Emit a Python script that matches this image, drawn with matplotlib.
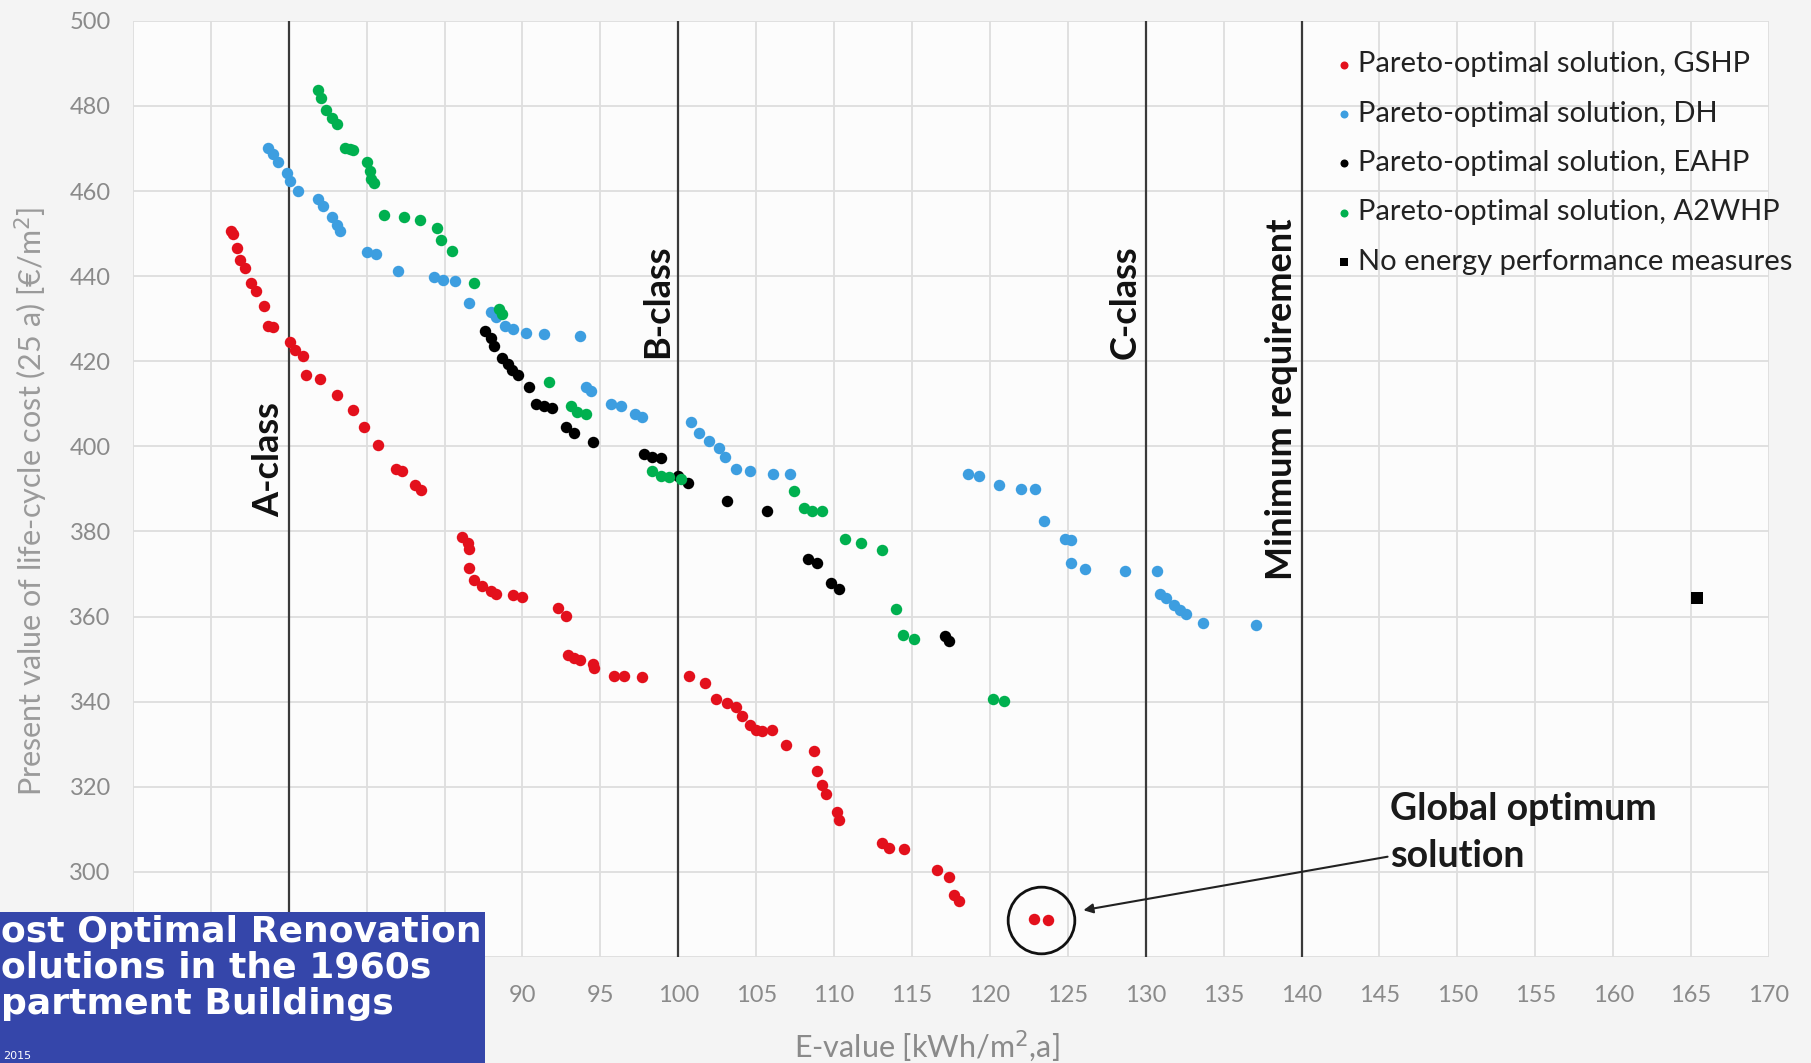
import numpy as np
import matplotlib
matplotlib.use('Agg')
import matplotlib.pyplot as plt
from matplotlib.patches import Rectangle

plt.rcParams['font.family'] = ['Lato', 'DejaVu Sans']

# GSHP (red)
gshp_x = [71.3, 71.4, 71.7, 71.9, 72.2, 72.6, 72.9, 73.4, 73.7, 74.0, 75.1, 75.4, 75.9, 76.1, 77.0,
          78.1, 79.1, 79.8, 80.7, 81.9, 82.3, 83.1, 83.5, 86.1, 86.5, 86.6, 86.6, 86.9, 87.4, 88.0,
          88.3, 89.4, 90.0, 92.3, 92.8, 92.9, 93.3, 93.7, 94.5, 94.6, 95.9, 96.5, 97.7, 100.7, 101.7,
          102.4, 103.1, 103.7, 104.1, 104.6, 105.0, 105.4, 106.0, 106.9, 108.7, 108.9, 109.2, 109.5,
          110.2, 110.3, 113.1, 113.5, 114.5, 116.6, 117.4, 117.7, 118.0, 122.8, 123.7]
gshp_y = [450.6, 449.8, 446.5, 443.8, 441.9, 438.4, 436.5, 433.0, 428.4, 428.1, 424.6, 422.7, 421.3,
          416.7, 415.9, 412.1, 408.5, 404.5, 400.4, 394.7, 394.2, 390.9, 389.8, 378.7, 377.3, 376.0,
          371.4, 368.7, 367.3, 365.9, 365.4, 365.1, 364.6, 362.1, 360.2, 351.0, 350.2, 349.7, 348.8,
          348.0, 346.1, 346.1, 345.9, 346.1, 344.5, 340.7, 339.6, 338.8, 336.6, 334.5, 333.4, 333.1,
          333.4, 329.8, 328.5, 323.6, 320.4, 318.2, 314.1, 312.2, 306.8, 305.7, 305.4, 300.5, 298.9,
          294.6, 293.2, 288.9, 288.6]

# DH (blue)
dh_x = [73.7, 74.0, 74.3, 74.9, 75.1, 75.6, 76.9, 77.2, 77.8, 78.1, 78.3, 80.0, 80.6, 82.0, 84.3,
        84.9, 85.7, 86.6, 88.0, 88.3, 88.9, 89.4, 90.2, 91.4, 93.7, 94.1, 94.4, 95.7, 96.3, 97.2,
        97.7, 100.8, 101.3, 102.0, 102.6, 103.0, 103.7, 104.6, 106.1, 107.2, 118.6, 119.3, 120.6,
        122.0, 122.9, 123.5, 124.8, 125.2, 125.2, 126.1, 128.7, 130.7, 130.9, 131.3, 131.8, 132.2,
        132.6, 133.7, 137.1]
dh_y = [470.1, 468.8, 466.9, 464.2, 462.3, 460.1, 458.2, 456.6, 453.9, 452.0, 450.6, 445.7, 445.2,
        441.1, 439.8, 439.2, 438.9, 433.8, 431.6, 430.3, 428.4, 427.5, 426.7, 426.5, 425.9, 414.0,
        412.9, 409.9, 409.6, 407.7, 406.9, 405.8, 403.1, 401.2, 399.6, 397.4, 394.7, 394.2, 393.6,
        393.6, 393.6, 393.1, 390.9, 390.1, 390.1, 382.5, 378.2, 377.9, 372.7, 371.1, 370.6, 370.6,
        365.4, 364.3, 362.7, 361.6, 360.5, 358.6, 358.1]

# EAHP (black)
eahp_x = [87.6, 88.0, 88.2, 88.7, 89.1, 89.3, 89.7, 90.4, 90.9, 91.4, 91.9, 92.8, 93.3, 94.5, 97.8,
          98.3, 98.9, 100.0, 100.6, 103.1, 105.7, 108.3, 108.9, 109.8, 110.3, 117.1, 117.4]
eahp_y = [427.0, 425.4, 423.5, 420.8, 419.4, 418.0, 416.7, 414.0, 409.9, 409.4, 409.1, 404.5, 403.1,
          401.0, 398.2, 397.4, 397.2, 393.1, 391.5, 387.1, 384.9, 373.5, 372.5, 367.8, 366.5, 355.4,
          354.3]

# A2WHP (green)
a2w_x = [76.9, 77.1, 77.4, 77.8, 78.1, 78.6, 78.9, 79.1, 80.0, 80.2, 80.3, 80.5, 81.1, 82.4, 83.4,
         84.5, 84.8, 85.5, 86.9, 88.5, 88.7, 91.7, 93.1, 93.5, 94.1, 98.3, 98.9, 99.4, 100.2, 107.4,
         108.1, 108.6, 109.2, 110.7, 111.7, 113.1, 114.0, 114.4, 115.1, 120.2, 120.9]
a2w_y = [483.7, 481.8, 479.1, 477.2, 475.8, 470.1, 469.9, 469.6, 466.9, 464.7, 462.8, 462.0, 454.4,
         453.9, 453.3, 451.4, 448.4, 446.0, 438.4, 432.2, 431.1, 415.1, 409.4, 408.0, 407.5, 394.2,
         393.1, 392.8, 392.3, 389.6, 385.5, 384.9, 384.7, 378.2, 377.3, 375.7, 361.9, 355.6, 354.8,
         340.7, 340.2]

# no measures (square)
base_x = [165.4]
base_y = [364.3]

class_x = [75, 100, 130, 140]
class_labels = ['A-class', 'B-class', 'C-class', 'Minimum requirement']
class_label_y = [397, 434, 434, 411]

opt_x = 123.25
opt_y = 288.7

xticks = np.arange(65, 171, 5)
# ticks 65..85 sit under the title box, their labels are not visible
xtick_labels = ['' if v < 90 else str(v) for v in xticks]

fig = plt.figure(figsize=(18.11, 10.63), dpi=100, facecolor='#f4f4f4')
ax = fig.add_axes([0.0734, 0.0997, 0.9768 - 0.0734, 0.9804 - 0.0997])
ax.set_facecolor('#fcfcfc')

ax.set_xlim(65, 170)
ax.set_ylim(280, 500)
ax.set_xticks(xticks)
ax.set_xticklabels(xtick_labels)
ax.set_yticks(np.arange(300, 501, 20))
ax.axhline(280, color='#dedede', lw=1.3, zorder=0)
ax.grid(True, color='#dedede', lw=1.3)
ax.set_axisbelow(True)
for s in ax.spines.values():
    s.set_visible(False)
ax.tick_params(length=0, labelsize=17, labelcolor='#8a8a8a')
ax.tick_params(axis='y', pad=16)
ax.tick_params(axis='x', pad=20)

for cx in class_x:
    ax.axvline(cx, color='#3a3a3a', lw=1.6, zorder=2)
for cx, lab, ly in zip(class_x, class_labels, class_label_y):
    ax.text(cx - 1.3, ly, lab, rotation=90, ha='center', va='center',
            fontsize=26, fontweight='bold', color='#111111')

ms = 68
ax.scatter(gshp_x, gshp_y, s=ms, color='#e3101c', label='Pareto-optimal solution, GSHP', zorder=3, lw=0)
ax.scatter(dh_x, dh_y, s=ms, color='#3d9ee0', label='Pareto-optimal solution, DH', zorder=3, lw=0)
ax.scatter(eahp_x, eahp_y, s=ms, color='#000000', label='Pareto-optimal solution, EAHP', zorder=3, lw=0)
ax.scatter(a2w_x, a2w_y, s=ms, color='#00b04f', label='Pareto-optimal solution, A2WHP', zorder=3, lw=0)
ax.scatter(base_x, base_y, s=80, marker='s', color='#000000', label='No energy performance measures', zorder=3, lw=0)

ax.plot([opt_x], [opt_y], marker='o', ms=48, mfc='none', mec='#111111', mew=2.0, zorder=4)
ax.annotate('Global optimum\nsolution', xy=(126.0, 291.0), xytext=(145.7, 309.2),
            fontsize=27, fontweight='bold', color='#1a1a1a', ha='left', va='center', linespacing=1.45,
            arrowprops=dict(arrowstyle='-|>', color='#222222', lw=1.5, mutation_scale=14,
                            shrinkA=0, shrinkB=0), zorder=5)

leg = ax.legend(loc='upper left', bbox_to_anchor=(0.725, 0.98), frameon=False, fontsize=21,
                markerscale=0.7, handletextpad=0.05, labelspacing=0.8, handlelength=0.9,
                borderaxespad=0)
for t in leg.get_texts():
    t.set_color('#222222')

fig.text(0.0175, 0.528, 'Present value of life-cycle cost (25 a) [€/m$^2$]', rotation=90,
         ha='center', va='center', fontsize=22, color='#9a9a9a')
fig.text(0.512, 0.016, 'E-value [kWh/m$^2$,a]', ha='center', va='center', fontsize=22, color='#8a8a8a')

# slide title overlay in the lower left corner (left edge cropped as in the source)
box = Rectangle((0, 0), 485 / 1811, 151 / 1063, transform=fig.transFigure,
                facecolor='#3546aa', edgecolor='none', zorder=5)
fig.patches.append(box)
fig.text(0.0005, 0.0894, 'ost Optimal Renovation\nolutions in the 1960s\npartment Buildings',
         ha='left', va='center', fontsize=26, fontweight='bold', color='white',
         family='DejaVu Sans', linespacing=1.08, zorder=6)
fig.text(0.002, 0.002, '2015', ha='left', va='bottom', fontsize=8, color='white',
         family='DejaVu Sans', zorder=6)

fig.savefig('out.png', dpi=100, facecolor=fig.get_facecolor())
